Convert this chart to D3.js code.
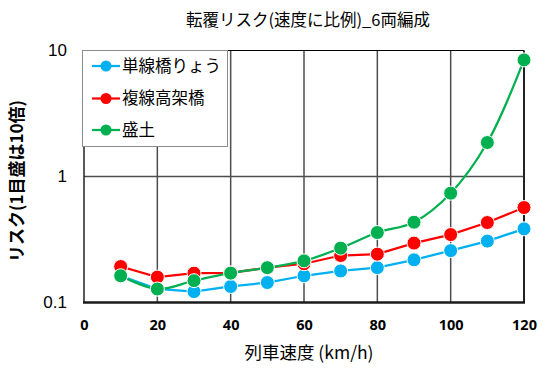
<!DOCTYPE html>
<html><head><meta charset="utf-8">
<script src="https://cdn.jsdelivr.net/npm/d3@7"></script>
<style>body{margin:0;background:#fff}svg{display:block}</style>
</head><body>
<svg id="c" width="555" height="386"></svg>
<script>
const speeds = [10,20,30,40,50,60,70,80,90,100,110,120];
const tankyo = [0.163,0.128,0.122,0.134,0.144,0.163,0.178,0.189,0.218,0.258,0.307,0.384];
const fukusen = [0.193,0.159,0.171,0.172,0.189,0.203,0.236,0.242,0.296,0.346,0.431,0.567];
const morido = [0.163,0.128,0.149,0.171,0.189,0.214,0.270,0.359,0.434,0.737,1.86,8.42];
const seriesNames = ["単線橋りょう","複線高架橋","盛土"];
const xTicks = [0,20,40,60,80,100,120];
const yTicks = [0.1,1,10];
const title = "転覆リスク(速度に比例)_6両編成";
const xTitle = "列車速度 (km/h)";
const yTitle = "リスク(1目盛は10倍)";

const colors = ["#00B0F0","#FF0000","#00B050"];
const jp = "'Noto Sans CJK JP', sans-serif";
const svg = d3.select("#c");
const L=84, R=524, T=50.5, B=302.5;
const x = d3.scaleLinear().domain([0,120]).range([L,R]);
const y = d3.scaleLog().domain([0.1,10]).range([B,T]);

// gridlines
svg.append("g").selectAll("line").data(xTicks.filter(d=>d>0&&d<120)).join("line")
  .attr("x1",d=>x(d)).attr("x2",d=>x(d)).attr("y1",T).attr("y2",B)
  .attr("stroke","#4d4d4d").attr("stroke-width",1.5);
svg.append("g").selectAll("line").data(yTicks.filter(d=>d>0.1&&d<10)).join("line")
  .attr("x1",L).attr("x2",R).attr("y1",d=>y(d)).attr("y2",d=>y(d))
  .attr("stroke","#4d4d4d").attr("stroke-width",1.5);
// borders
svg.append("line").attr("x1",L).attr("x2",R).attr("y1",T).attr("y2",T).attr("stroke","#000").attr("stroke-width",1.2);
svg.append("line").attr("x1",R).attr("x2",R).attr("y1",T).attr("y2",B).attr("stroke","#222").attr("stroke-width",2);
svg.append("line").attr("x1",L).attr("x2",L).attr("y1",T).attr("y2",B).attr("stroke","#222").attr("stroke-width",1.5);
svg.append("line").attr("x1",L-1).attr("x2",R+1).attr("y1",B).attr("y2",B).attr("stroke","#1a1a1a").attr("stroke-width",2.5);

// axes labels via d3 axes
const xAxis = svg.append("g").attr("transform",`translate(0,${B})`)
  .call(d3.axisBottom(x).tickValues(xTicks).tickSize(0).tickPadding(17).tickFormat(d3.format("d")));
xAxis.select(".domain").remove();
xAxis.selectAll("text").attr("font-family","'Open Sans', sans-serif").attr("font-weight","bold").attr("font-size",14.5).attr("fill","#000");

const yAxis = svg.append("g").attr("transform",`translate(${L},0)`)
  .call(d3.axisLeft(y).tickValues(yTicks).tickSize(0).tickPadding(17).tickFormat(d=>String(d)));
yAxis.select(".domain").remove();
yAxis.selectAll("text").attr("font-family","'Liberation Sans', Arial, sans-serif").attr("font-size",17).attr("fill","#000");

// series
const data = [tankyo,fukusen,morido];
data.forEach((vals,i)=>{
  const pts = speeds.map((s,j)=>[s,vals[j]]);
  const line = d3.line().x(d=>x(d[0])).y(d=>y(d[1]))
    .curve(i===2 ? d3.curveCatmullRom.alpha(0.5) : d3.curveLinear);
  svg.append("path").datum(pts).attr("d",line).attr("fill","none")
    .attr("stroke",colors[i]).attr("stroke-width",2.25);
  svg.append("g").selectAll("circle").data(pts).join("circle")
    .attr("cx",d=>x(d[0])).attr("cy",d=>y(d[1])).attr("r",7)
    .attr("fill",colors[i]).attr("stroke","#fff").attr("stroke-width",1);
});

// legend
const lg = svg.append("g");
lg.append("rect").attr("x",82.5).attr("y",50.5).attr("width",145).attr("height",96)
  .attr("fill","#fff").attr("stroke","#8c8c8c").attr("stroke-width",1);
const ly = [66,98.5,130];
seriesNames.forEach((n,i)=>{
  lg.append("line").attr("x1",92).attr("x2",120).attr("y1",ly[i]).attr("y2",ly[i])
    .attr("stroke",colors[i]).attr("stroke-width",2.25);
  lg.append("circle").attr("cx",106).attr("cy",ly[i]).attr("r",5.5).attr("fill",colors[i]);
  lg.append("text").attr("x",122).attr("y",ly[i]).attr("dy","0.36em")
    .attr("font-family",jp).attr("font-size",16.5).attr("fill","#000").text(n);
});

// titles
svg.append("text").attr("x",308).attr("y",20).attr("dy","0.36em").attr("text-anchor","middle")
  .attr("font-family",jp).attr("font-size",16.5).attr("fill","#000").text(title);
svg.append("text").attr("x",309).attr("y",353).attr("dy","0.36em").attr("text-anchor","middle")
  .attr("font-family",jp).attr("font-size",17.5).attr("fill","#000").text(xTitle);
svg.append("text").attr("transform","translate(17,181) rotate(-90)").attr("dy","0.36em").attr("text-anchor","middle")
  .attr("font-family",jp).attr("font-weight","bold").attr("font-size",17).attr("fill","#000").text(yTitle);
</script>
</body></html>
